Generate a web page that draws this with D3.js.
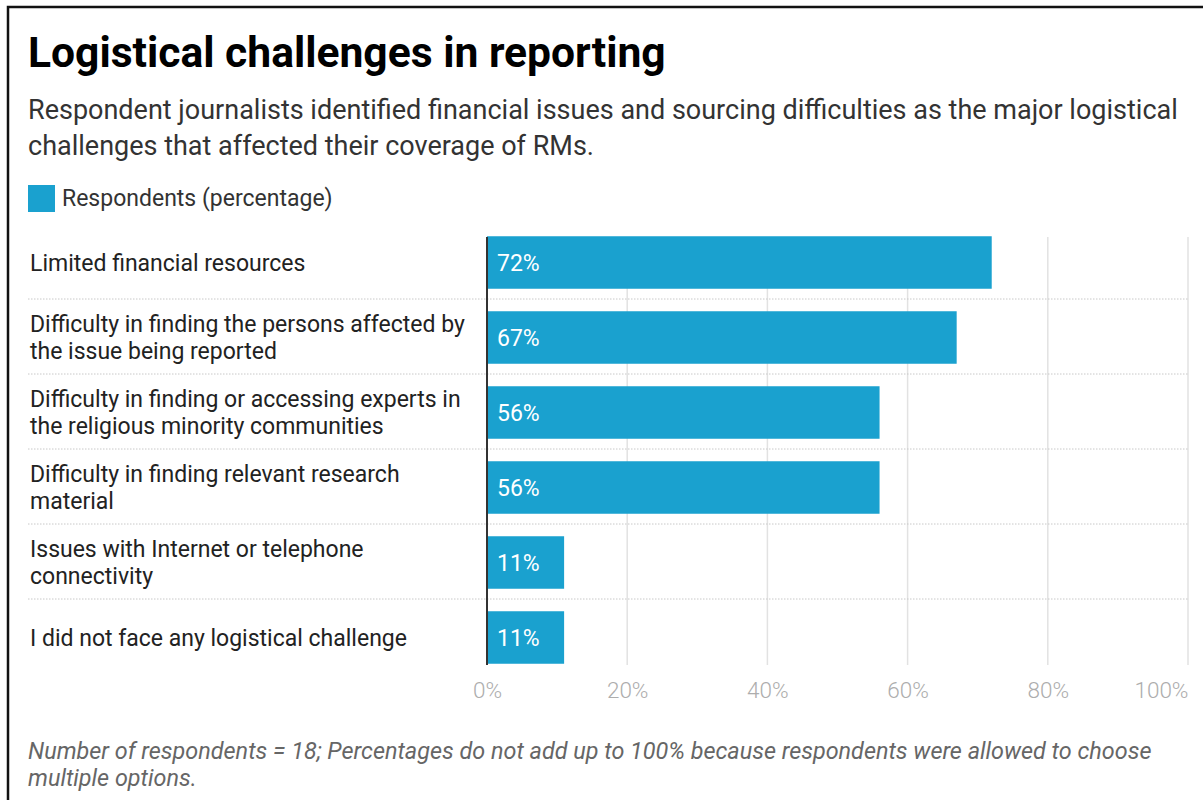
<!DOCTYPE html>
<html>
<head>
<meta charset="utf-8">
<script src="https://cdn.jsdelivr.net/npm/d3@7"></script>
<style>
  html, body { margin: 0; padding: 0; background: #fff; }
  svg { display: block; font-family: Roboto, "Noto Sans", sans-serif; }
</style>
</head>
<body>
<svg id="chart" width="1203" height="800"></svg>
<script>
const categories = [
  ["Limited financial resources"],
  ["Difficulty in finding the persons affected by", "the issue being reported"],
  ["Difficulty in finding or accessing experts in", "the religious minority communities"],
  ["Difficulty in finding relevant research", "material"],
  ["Issues with Internet or telephone", "connectivity"],
  ["I did not face any logistical challenge"]
];
const values = [72, 67, 56, 56, 11, 11];
const tickValues = [0, 20, 40, 60, 80, 100];
const titleText = "Logistical challenges in reporting";
const subtitleLines = [
  "Respondent journalists identified financial issues and sourcing difficulties as the major logistical",
  "challenges that affected their coverage of RMs."
];
const legendLabel = "Respondents (percentage)";
const noteLines = [
  "Number of respondents = 18; Percentages do not add up to 100% because respondents were allowed to choose",
  "multiple options."
];

const svg = d3.select("#chart");
const barColor = "#1aa1cf";

// frame
svg.append("rect").attr("x", 8).attr("y", 7).attr("width", 1300).attr("height", 900)
  .attr("fill", "none").attr("stroke", "#111").attr("stroke-width", 2.5);

svg.append("text").attr("x", 28).attr("y", 67).text(titleText)
  .attr("font-size", 42.6).attr("font-weight", 700).attr("fill", "#000");

svg.selectAll("text.sub").data(subtitleLines).join("text").attr("class", "sub")
  .attr("x", 28).attr("y", (d, i) => 119 + i * 36).text(d => d)
  .attr("font-size", 27).attr("fill", "#333");

svg.append("rect").attr("x", 28).attr("y", 185).attr("width", 27).attr("height", 27).attr("fill", barColor);
svg.append("text").attr("x", 62).attr("y", 206).text(legendLabel)
  .attr("font-size", 23).attr("fill", "#333");

const x = d3.scaleLinear().domain([0, 100]).range([487, 1188]);
const y = d3.scaleBand().domain(d3.range(values.length)).range([225, 675]).paddingInner(0.3).paddingOuter(0.15);

const ys = d3.scaleBand().domain(d3.range(values.length)).range([225, 675]);

// gridlines
svg.append("g").selectAll("line").data(tickValues.slice(1)).join("line")
  .attr("x1", d => x(d)).attr("x2", d => x(d))
  .attr("y1", 237).attr("y2", 665)
  .attr("stroke", "#e2e2e2").attr("stroke-width", 1.5);

// separators
svg.append("g").selectAll("line").data(d3.range(1, values.length)).join("line")
  .attr("x1", 28).attr("x2", 1188)
  .attr("y1", d => ys(d) - 1).attr("y2", d => ys(d) - 1)
  .attr("stroke", "#c8c8c8").attr("stroke-width", 1).attr("stroke-dasharray", "1.5,1.5");

// bars
svg.append("g").selectAll("rect").data(values).join("rect")
  .attr("x", x(0)).attr("y", (d, i) => y(i))
  .attr("width", d => x(d) - x(0)).attr("height", y.bandwidth())
  .attr("fill", barColor);

// value labels
svg.append("g").selectAll("text").data(values).join("text")
  .attr("x", x(0) + 10).attr("y", (d, i) => y(i) + y.bandwidth() / 2 + 8)
  .text(d => d + "%").attr("font-size", 23).attr("fill", "#fff");

// category labels
const lab = svg.append("g").selectAll("text").data(categories).join("text")
  .attr("x", 30).attr("font-size", 23).attr("fill", "#222")
  .attr("y", (d, i) => y(i) + y.bandwidth() / 2 + 8 - (d.length - 1) * 13.5);
lab.selectAll("tspan").data(d => d).join("tspan")
  .attr("x", 30).attr("dy", (d, i) => i === 0 ? 0 : 27).text(d => d);

// axis line
svg.append("line").attr("x1", x(0)).attr("x2", x(0)).attr("y1", 237).attr("y2", 665)
  .attr("stroke", "#333").attr("stroke-width", 2);

// x axis
const axis = d3.axisBottom(x).tickValues(tickValues).tickFormat(d => d + "%").tickSize(0).tickPadding(0);
const ax = svg.append("g").attr("transform", "translate(0,698)").call(axis);
ax.select(".domain").remove();
ax.selectAll("text").attr("font-size", 22.5).attr("fill", "#adadad").attr("font-family", "Roboto").attr("font-weight", 300).attr("dy", 0);
ax.selectAll(".tick").filter(d => d === 100).select("text").attr("text-anchor", "end").attr("x", 0);

svg.selectAll("text.note").data(noteLines).join("text").attr("class", "note")
  .attr("x", 28).attr("y", (d, i) => 759 + i * 27).text(d => d)
  .attr("font-size", 23.4).attr("font-style", "italic").attr("fill", "#666");
</script>
</body>
</html>
